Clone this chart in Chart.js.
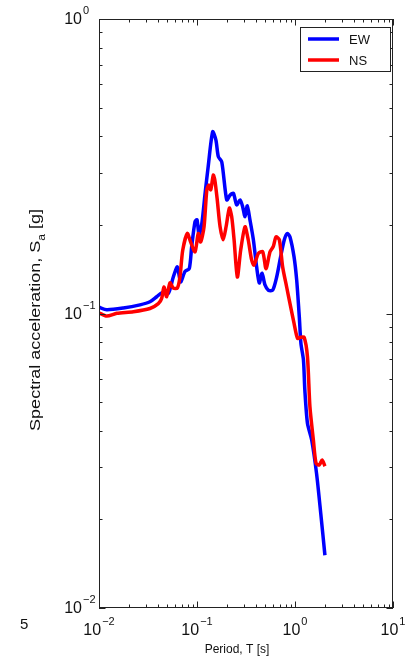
<!DOCTYPE html>
<html>
<head>
<meta charset="utf-8">
<script src="https://cdn.jsdelivr.net/npm/chart.js@4/dist/chart.umd.min.js"></script>
<style>
  html, body { margin: 0; padding: 0; background: #fff; }
  #wrap { width: 405px; height: 657px; position: relative; }
</style>
</head>
<body>
<div id="wrap"><canvas id="spectraChart"></canvas></div>
<script>
// periods [s] and spectral accelerations [g]
const periodsEW = [0.010, 0.012, 0.0177, 0.0262, 0.0331, 0.0388, 0.0436, 0.0509, 0.0573, 0.063, 0.068, 0.0755,
  0.0834, 0.0883, 0.0955, 0.100, 0.105, 0.112, 0.121, 0.130, 0.1445, 0.156, 0.165, 0.179, 0.201, 0.217, 0.235,
  0.254, 0.275, 0.292, 0.309, 0.326, 0.347, 0.376, 0.406, 0.432, 0.461, 0.494, 0.535, 0.592, 0.650, 0.714,
  0.778, 0.835, 0.889, 0.977, 1.04, 1.106, 1.15, 1.22, 1.26, 1.34, 1.48, 1.66, 1.83, 2.02];
const saEW = [0.105, 0.103, 0.1044, 0.107, 0.1096, 0.114, 0.1175, 0.117, 0.133, 0.144, 0.128, 0.139,
  0.142, 0.169, 0.205, 0.208, 0.185, 0.202, 0.256, 0.315, 0.414, 0.388, 0.341, 0.327, 0.243, 0.252, 0.256,
  0.234, 0.243, 0.231, 0.213, 0.232, 0.208, 0.178, 0.144, 0.127, 0.137, 0.125, 0.120, 0.120, 0.133, 0.156,
  0.178, 0.187, 0.182, 0.156, 0.130, 0.0975, 0.079, 0.0695, 0.055, 0.0424, 0.0372, 0.0286, 0.021, 0.0151];

const periodsNS = [0.010, 0.012, 0.0152, 0.0224, 0.0331, 0.0403, 0.0436, 0.046, 0.049, 0.053, 0.0573, 0.063,
  0.067, 0.0715, 0.0796, 0.086, 0.0955, 0.103, 0.109, 0.118, 0.126, 0.132, 0.138, 0.1466, 0.152, 0.161,
  0.172, 0.185, 0.198, 0.214, 0.226, 0.239, 0.258, 0.279, 0.309, 0.333, 0.361, 0.382, 0.423, 0.468, 0.506,
  0.556, 0.601, 0.640, 0.692, 0.748, 0.822, 0.889, 0.977, 1.06, 1.14, 1.24, 1.34, 1.42, 1.54, 1.64, 1.77,
  1.89, 2.02];
const saNS = [0.1006, 0.098, 0.1002, 0.1014, 0.104, 0.108, 0.1126, 0.123, 0.114, 0.127, 0.122, 0.122,
  0.133, 0.164, 0.187, 0.175, 0.162, 0.187, 0.175, 0.197, 0.263, 0.273, 0.263, 0.295, 0.284, 0.243,
  0.197, 0.178, 0.197, 0.228, 0.213, 0.178, 0.133, 0.164, 0.197, 0.178, 0.152, 0.146, 0.160, 0.162, 0.142,
  0.162, 0.169, 0.182, 0.178, 0.144, 0.123, 0.108, 0.0927, 0.0824, 0.083, 0.083, 0.0713, 0.0483, 0.0372,
  0.031, 0.0306, 0.0318, 0.0303];

// decade tick labels (exponents of 10)
const xDecades = [-2, -1, 0, 1];
const yDecades = [-2, -1, 0];

const seriesNames = ["EW", "NS"];
const seriesColors = ["#0000ff", "#ff0000"];

const FONT = "'Liberation Sans', Arial, Helvetica, sans-serif";

function toPoints(xs, ys) {
  return xs.map(function (x, i) { return { x: x, y: ys[i] }; });
}

// draw "10" with superscript exponent
// align "center": whole label centred on x; align "base": "10" ends at x
function drawPow(ctx, exp, x, y, align) {
  const base = "10", sup = String(exp).replace("-", "\u2212");
  ctx.font = "16px " + FONT;
  const wb = ctx.measureText(base).width;
  ctx.font = "11px " + FONT;
  const ws = ctx.measureText(sup).width;
  const total = wb + 1 + ws;
  let x0 = align === "base" ? x - wb : x - total / 2;
  ctx.textAlign = "left";
  ctx.textBaseline = "middle";
  ctx.font = "16px " + FONT;
  ctx.fillText(base, x0, y);
  ctx.font = "11px " + FONT;
  ctx.fillText(sup, x0 + wb + 1, y - 9);
}

const axesPlugin = {
  id: "matlabAxes",
  afterDraw: function (chart) {
    const ctx = chart.ctx;
    const a = chart.chartArea;
    const xs = chart.scales.x, ys = chart.scales.y;
    ctx.save();
    ctx.strokeStyle = "#222";
    ctx.fillStyle = "#111";
    ctx.lineWidth = 1;

    // box
    ctx.strokeRect(a.left + 0.5, a.top + 0.5, a.right - a.left - 1, a.bottom - a.top - 1);

    // ticks (inside, all four sides)
    ctx.beginPath();
    xDecades.forEach(function (e) {
      for (let m = 1; m <= 9; m++) {
        const v = m * Math.pow(10, e);
        if (v < xs.min * 0.999 || v > xs.max * 1.001) continue;
        const px = Math.round(xs.getPixelForValue(v)) + 0.5;
        const len = m === 1 ? 6.5 : 3.5;
        ctx.moveTo(px, a.bottom); ctx.lineTo(px, a.bottom - len);
        ctx.moveTo(px, a.top); ctx.lineTo(px, a.top + len);
      }
    });
    yDecades.forEach(function (e) {
      for (let m = 1; m <= 9; m++) {
        const v = m * Math.pow(10, e);
        if (v < ys.min * 0.999 || v > ys.max * 1.001) continue;
        const py = Math.round(ys.getPixelForValue(v)) + 0.5;
        const len = m === 1 ? 6.5 : 3.5;
        ctx.moveTo(a.left, py); ctx.lineTo(a.left + len, py);
        ctx.moveTo(a.right, py); ctx.lineTo(a.right - len, py);
      }
    });
    ctx.stroke();

    // tick labels
    xDecades.forEach(function (e) {
      drawPow(ctx, e, xs.getPixelForValue(Math.pow(10, e)), a.bottom + 23, "center");
    });
    yDecades.forEach(function (e) {
      drawPow(ctx, e, a.left - 17, ys.getPixelForValue(Math.pow(10, e)) + 1, "base");
    });

    // x title
    ctx.font = "12px " + FONT;
    ctx.textAlign = "center";
    ctx.textBaseline = "middle";
    ctx.fillText("Period, T [s]", 237, 650);

    // y title with subscript (stretched along its length like the original)
    ctx.save();
    ctx.translate(36, 320);
    ctx.rotate(-Math.PI / 2);
    ctx.scale(1.2, 1);
    const t1 = "Spectral acceleration, S", t2 = "a", t3 = " [g]";
    ctx.font = "15px " + FONT;
    const w1 = ctx.measureText(t1).width, w3 = ctx.measureText(t3).width;
    ctx.font = "10px " + FONT;
    const w2 = ctx.measureText(t2).width;
    let x0 = -(w1 + w2 + w3) / 2;
    ctx.textAlign = "left";
    ctx.font = "15px " + FONT;
    ctx.fillText(t1, x0, 0);
    ctx.font = "10px " + FONT;
    ctx.fillText(t2, x0 + w1, 6);
    ctx.font = "15px " + FONT;
    ctx.fillText(t3, x0 + w1 + w2, 0);
    ctx.restore();

    // stray label from neighbouring panel
    ctx.font = "15px " + FONT;
    ctx.textAlign = "left";
    ctx.fillText("5", 20, 625);

    // legend
    ctx.fillStyle = "#fff";
    ctx.fillRect(300, 27, 90, 44);
    ctx.strokeStyle = "#222";
    ctx.strokeRect(300.5, 27.5, 90, 44);
    seriesNames.forEach(function (name, i) {
      const ly = 39 + i * 21;
      ctx.strokeStyle = seriesColors[i];
      ctx.lineWidth = 3.5;
      ctx.beginPath();
      ctx.moveTo(308, ly); ctx.lineTo(339, ly);
      ctx.stroke();
      ctx.fillStyle = "#111";
      ctx.font = "13px " + FONT;
      ctx.textAlign = "left";
      ctx.textBaseline = "middle";
      ctx.fillText(name, 349, ly + 1);
    });
    ctx.restore();
  }
};

new Chart(document.getElementById("spectraChart"), {
  type: "line",
  data: {
    datasets: [
      {
        label: seriesNames[0],
        data: toPoints(periodsEW, saEW),
        borderColor: seriesColors[0],
        borderWidth: 3.5,
        pointRadius: 0,
        tension: 0.25,
        order: 1
      },
      {
        label: seriesNames[1],
        data: toPoints(periodsNS, saNS),
        borderColor: seriesColors[1],
        borderWidth: 3.5,
        pointRadius: 0,
        tension: 0.25,
        order: 0
      }
    ]
  },
  options: {
    responsive: true,
    maintainAspectRatio: false,
    animation: false,
    layout: { padding: { left: 99, right: 12, top: 19, bottom: 49 } },
    plugins: {
      legend: { display: false },
      tooltip: { enabled: false }
    },
    scales: {
      x: { type: "logarithmic", min: 0.01, max: 10, display: false },
      y: { type: "logarithmic", min: 0.01, max: 1, display: false }
    }
  },
  plugins: [axesPlugin]
});
</script>
</body>
</html>
